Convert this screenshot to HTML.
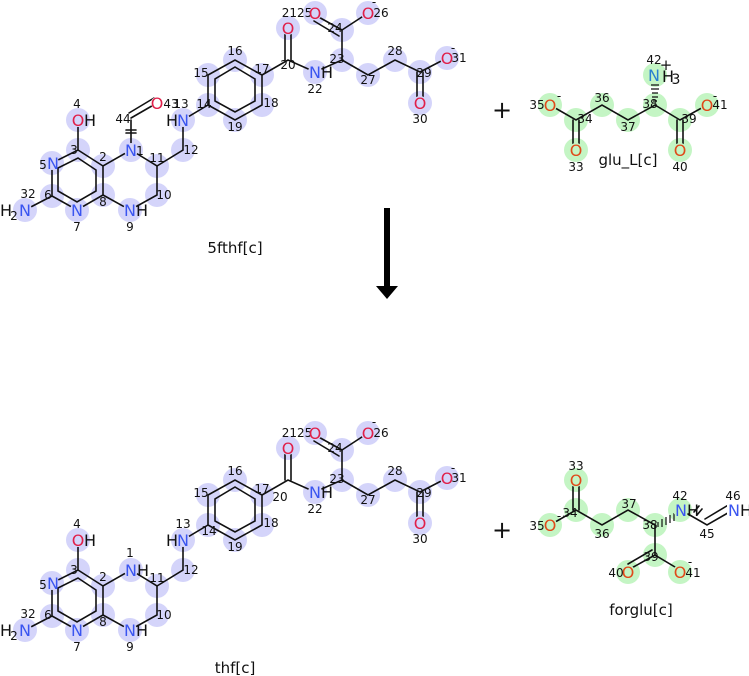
<!DOCTYPE html>
<html><head><meta charset="utf-8"><style>
html,body{margin:0;padding:0;background:#fff;}
svg{display:block;font-family:"DejaVu Sans","Liberation Sans",sans-serif;}
.b{stroke:#111;stroke-width:1.6;fill:none;stroke-linecap:round}
.hb circle{fill:#d4d4fa}
.hg circle{fill:#c4f5c4}
.n{font-size:12px;fill:#111;text-anchor:middle}
.N{font-size:16px;fill:#3a55f0;text-anchor:middle}
.O{font-size:16px;fill:#e0204a;text-anchor:middle}
.Og{font-size:16px;fill:#e04a1a;text-anchor:middle}
.H{font-size:16px;fill:#111}
.t{font-size:15px;fill:#111;text-anchor:middle}
</style></head><body>
<svg width="749" height="676" viewBox="0 0 749 676" xmlns="http://www.w3.org/2000/svg">

<!-- ===== 5fthf (top) ===== -->
<g class="hb">
<circle cx="131" cy="150" r="12"/><circle cx="103" cy="166" r="12"/><circle cx="78" cy="150" r="12"/>
<circle cx="78" cy="120" r="12"/><circle cx="52" cy="163" r="12"/><circle cx="52" cy="196" r="12"/>
<circle cx="77" cy="210" r="12"/><circle cx="103" cy="195" r="12"/><circle cx="130" cy="210" r="12"/>
<circle cx="157" cy="195" r="12"/><circle cx="157" cy="166" r="12"/><circle cx="183" cy="150" r="12"/>
<circle cx="183" cy="120" r="12"/><circle cx="208" cy="105" r="12"/><circle cx="208" cy="75" r="12"/>
<circle cx="235" cy="60" r="12"/><circle cx="262" cy="75" r="12"/><circle cx="262" cy="105" r="12"/>
<circle cx="235" cy="120" r="12"/><circle cx="288" cy="28" r="12"/><circle cx="315" cy="72" r="12"/>
<circle cx="342" cy="60" r="12"/><circle cx="342" cy="30" r="12"/><circle cx="315" cy="13" r="12"/>
<circle cx="368" cy="13" r="12"/><circle cx="368" cy="75" r="12"/><circle cx="395" cy="60" r="12"/>
<circle cx="420" cy="72" r="12"/><circle cx="420" cy="103" r="12"/><circle cx="447" cy="58" r="12"/>
<circle cx="25" cy="210" r="12"/>
</g>
<g class="b">
<path d="M131,150 L103,166 L78,150 L52,163 L52,196 L77,210 L103,195 L103,166"/>
<path d="M78,158 L96,170 L96,191 L77,202 L58,191 L58,168 Z"/>
<path d="M103,195 L130,210 L157,195 L157,166 L131,150"/>
<path d="M157,166 L183,150 L183,120 L208,105"/>
<path d="M208,105 L208,75 L235,60 L262,75 L262,105 L235,120 Z"/>
<path d="M215,101 L215,79 L235,67 L255,79 L255,101 L235,112 Z"/>
<path d="M262,75 L288,60 L315,72 L342,60 L342,30 L368,13"/>
<path d="M285,60 L285,28 M291,60 L291,28"/>
<path d="M342,30 L315,15 M339,36 L314,21"/>
<path d="M342,60 L368,75 L395,60 L420,72 L447,58"/>
<path d="M417,72 L417,103 M423,72 L423,103"/>
<path d="M78,150 L78,120 M52,196 L25,210"/>
<path d="M131,150 L131,120 M126,130 L136,130 M126,133 L136,133"/>
<path d="M131,118 L157,103 M129,113 L154,98"/>
</g>
<g class="hb">
<circle cx="131" cy="150" r="7"/><circle cx="78" cy="120" r="7"/><circle cx="52" cy="163" r="7"/>
<circle cx="77" cy="210" r="7"/><circle cx="130" cy="210" r="7"/><circle cx="183" cy="120" r="7"/>
<circle cx="288" cy="28" r="7"/><circle cx="315" cy="72" r="7"/><circle cx="315" cy="13" r="7"/>
<circle cx="368" cy="13" r="7"/><circle cx="420" cy="103" r="7"/><circle cx="447" cy="58" r="7"/>
<circle cx="25" cy="210" r="7"/>
</g>
<circle cx="157" cy="103" r="6" fill="#fff"/>
<text class="N" x="131" y="156">N</text><text class="n" x="140" y="155">1</text>
<text class="n" x="103" y="161">2</text><text class="n" x="74" y="154">3</text>
<text class="O" x="78" y="126">O</text><text class="H" x="84" y="126">H</text><text class="n" x="77" y="108">4</text>
<text class="N" x="53" y="169">N</text><text class="n" x="43" y="169">5</text>
<text class="n" x="48" y="199">6</text><text class="n" x="28" y="198">32</text>
<text class="N" x="25" y="216">N</text><text class="H" x="0" y="216">H</text><text class="n" x="14" y="220">2</text>
<text class="N" x="77" y="216">N</text><text class="n" x="77" y="231">7</text>
<text class="n" x="103" y="206">8</text>
<text class="N" x="130" y="216">N</text><text class="H" x="136" y="216">H</text><text class="n" x="130" y="231">9</text>
<text class="n" x="164" y="199">10</text><text class="n" x="157" y="162">11</text><text class="n" x="191" y="154">12</text>
<text class="H" x="166" y="126">H</text><text class="N" x="183" y="126">N</text><text class="n" x="181" y="108">13</text>
<text class="n" x="204" y="108">14</text><text class="n" x="201" y="77">15</text><text class="n" x="235" y="55">16</text>
<text class="n" x="262" y="73">17</text><text class="n" x="271" y="107">18</text><text class="n" x="235" y="131">19</text>
<text class="n" x="288" y="69">20</text>
<text class="O" x="288" y="34">O</text><text class="n" x="297" y="17">2125</text>
<text class="N" x="315" y="78">N</text><text class="H" x="321" y="78">H</text><text class="n" x="315" y="93">22</text>
<text class="n" x="337" y="63">23</text><text class="n" x="335" y="32">24</text>
<text class="O" x="315" y="19">O</text>
<text class="O" x="368" y="19">O</text><text class="n" x="381" y="17">26</text><text class="n" x="374" y="6">-</text>
<text class="n" x="368" y="84">27</text><text class="n" x="395" y="55">28</text><text class="n" x="424" y="77">29</text>
<text class="O" x="420" y="109">O</text><text class="n" x="420" y="123">30</text>
<text class="O" x="447" y="64">O</text><text class="n" x="459" y="62">31</text><text class="n" x="453" y="52">-</text>
<text class="n" x="123" y="123">44</text>
<text class="O" x="157" y="109">O</text><text class="n" x="171" y="108">43</text>
<text class="t" x="235" y="253">5fthf[c]</text>

<!-- plus + glu_L -->
<text x="502" y="118" style="font-size:24px;text-anchor:middle;fill:#111">+</text>
<g class="hg">
<circle cx="550" cy="105" r="12"/><circle cx="576" cy="120" r="12"/><circle cx="576" cy="150" r="12"/>
<circle cx="602" cy="105" r="12"/><circle cx="628" cy="120" r="12"/><circle cx="655" cy="105" r="12"/>
<circle cx="655" cy="75" r="12"/><circle cx="680" cy="120" r="12"/><circle cx="680" cy="150" r="12"/>
<circle cx="707" cy="105" r="12"/>
</g>
<g class="b">
<path d="M550,105 L576,120 L602,105 L628,120 L655,105 L680,120 L707,105"/>
<path d="M573,120 L573,150 M579,120 L579,150"/>
<path d="M677,120 L677,150 M683,120 L683,150"/>
</g>
<g stroke="#111" stroke-width="1.2">
<path d="M653,101 L657,101 M652,97 L658,97 M652,93 L658,93 M651,89 L659,89 M651,85 L659,85"/>
</g>
<g class="hg"><circle cx="550" cy="105" r="7"/><circle cx="576" cy="150" r="7"/><circle cx="680" cy="150" r="7"/><circle cx="707" cy="105" r="7"/><circle cx="655" cy="75" r="8"/></g>
<text class="Og" x="550" y="111">O</text><text class="n" x="537" y="109">35</text><text class="n" x="559" y="100">-</text>
<text class="n" x="585" y="123">34</text><text class="Og" x="576" y="156">O</text><text class="n" x="576" y="171">33</text>
<text class="n" x="602" y="102">36</text><text class="n" x="628" y="131">37</text><text class="n" x="650" y="108">38</text>
<text class="N" x="654" y="81" style="fill:#2a80d0">N</text><text class="H" x="662" y="82">H</text><text class="n" x="676" y="84" style="font-size:14px">3</text>
<text class="n" x="666" y="70" style="font-size:15px">+</text><text class="n" x="654" y="64">42</text>
<text class="n" x="689" y="123">39</text><text class="Og" x="680" y="156">O</text><text class="n" x="680" y="171">40</text>
<text class="Og" x="707" y="111">O</text><text class="n" x="720" y="109">41</text><text class="n" x="715" y="100">-</text>
<text class="t" x="628" y="165">glu_L[c]</text>

<!-- arrow -->
<rect x="384" y="208" width="6" height="80" fill="#000"/>
<path d="M376,286 L398,286 L387,299 Z" fill="#000"/>

<!-- ===== thf (bottom) ===== -->
<g transform="translate(0,420)">
<g class="hb">
<circle cx="131" cy="150" r="12"/><circle cx="103" cy="166" r="12"/><circle cx="78" cy="150" r="12"/>
<circle cx="78" cy="120" r="12"/><circle cx="52" cy="163" r="12"/><circle cx="52" cy="196" r="12"/>
<circle cx="77" cy="210" r="12"/><circle cx="103" cy="195" r="12"/><circle cx="130" cy="210" r="12"/>
<circle cx="157" cy="195" r="12"/><circle cx="157" cy="166" r="12"/><circle cx="183" cy="150" r="12"/>
<circle cx="183" cy="120" r="12"/><circle cx="208" cy="105" r="12"/><circle cx="208" cy="75" r="12"/>
<circle cx="235" cy="60" r="12"/><circle cx="262" cy="75" r="12"/><circle cx="262" cy="105" r="12"/>
<circle cx="235" cy="120" r="12"/><circle cx="288" cy="28" r="12"/><circle cx="315" cy="72" r="12"/>
<circle cx="342" cy="60" r="12"/><circle cx="342" cy="30" r="12"/><circle cx="315" cy="13" r="12"/>
<circle cx="368" cy="13" r="12"/><circle cx="368" cy="75" r="12"/><circle cx="395" cy="60" r="12"/>
<circle cx="420" cy="72" r="12"/><circle cx="420" cy="103" r="12"/><circle cx="447" cy="58" r="12"/>
<circle cx="25" cy="210" r="12"/>
</g>
<g class="b">
<path d="M131,150 L103,166 L78,150 L52,163 L52,196 L77,210 L103,195 L103,166"/>
<path d="M78,158 L96,170 L96,191 L77,202 L58,191 L58,168 Z"/>
<path d="M103,195 L130,210 L157,195 L157,166 L131,150"/>
<path d="M157,166 L183,150 L183,120 L208,105"/>
<path d="M208,105 L208,75 L235,60 L262,75 L262,105 L235,120 Z"/>
<path d="M215,101 L215,79 L235,67 L255,79 L255,101 L235,112 Z"/>
<path d="M262,75 L288,60 L315,72 L342,60 L342,30 L368,13"/>
<path d="M285,60 L285,28 M291,60 L291,28"/>
<path d="M342,30 L315,15 M339,36 L314,21"/>
<path d="M342,60 L368,75 L395,60 L420,72 L447,58"/>
<path d="M417,72 L417,103 M423,72 L423,103"/>
<path d="M78,150 L78,120 M52,196 L25,210"/>
</g>
<g class="hb">
<circle cx="131" cy="150" r="7"/><circle cx="78" cy="120" r="7"/><circle cx="52" cy="163" r="7"/>
<circle cx="77" cy="210" r="7"/><circle cx="130" cy="210" r="7"/><circle cx="183" cy="120" r="7"/>
<circle cx="288" cy="28" r="7"/><circle cx="315" cy="72" r="7"/><circle cx="315" cy="13" r="7"/>
<circle cx="368" cy="13" r="7"/><circle cx="420" cy="103" r="7"/><circle cx="447" cy="58" r="7"/>
<circle cx="25" cy="210" r="7"/>
</g>
<text class="N" x="131" y="156">N</text><text class="H" x="137" y="156">H</text><text class="n" x="130" y="137">1</text>
<text class="n" x="103" y="161">2</text><text class="n" x="74" y="154">3</text>
<text class="O" x="78" y="126">O</text><text class="H" x="84" y="126">H</text><text class="n" x="77" y="108">4</text>
<text class="N" x="53" y="169">N</text><text class="n" x="43" y="169">5</text>
<text class="n" x="48" y="199">6</text><text class="n" x="28" y="198">32</text>
<text class="N" x="25" y="216">N</text><text class="H" x="0" y="216">H</text><text class="n" x="14" y="220">2</text>
<text class="N" x="77" y="216">N</text><text class="n" x="77" y="231">7</text>
<text class="n" x="103" y="206">8</text>
<text class="N" x="130" y="216">N</text><text class="H" x="136" y="216">H</text><text class="n" x="130" y="231">9</text>
<text class="n" x="164" y="199">10</text><text class="n" x="157" y="162">11</text><text class="n" x="191" y="154">12</text>
<text class="H" x="166" y="126">H</text><text class="N" x="183" y="126">N</text><text class="n" x="183" y="108">13</text>
<text class="n" x="209" y="115">14</text><text class="n" x="201" y="77">15</text><text class="n" x="235" y="55">16</text>
<text class="n" x="262" y="73">17</text><text class="n" x="271" y="107">18</text><text class="n" x="235" y="131">19</text>
<text class="n" x="280" y="81">20</text>
<text class="O" x="288" y="34">O</text><text class="n" x="297" y="17">2125</text>
<text class="N" x="315" y="78">N</text><text class="H" x="321" y="78">H</text><text class="n" x="315" y="93">22</text>
<text class="n" x="337" y="63">23</text><text class="n" x="335" y="32">24</text>
<text class="O" x="315" y="19">O</text>
<text class="O" x="368" y="19">O</text><text class="n" x="381" y="17">26</text><text class="n" x="374" y="6">-</text>
<text class="n" x="368" y="84">27</text><text class="n" x="395" y="55">28</text><text class="n" x="424" y="77">29</text>
<text class="O" x="420" y="109">O</text><text class="n" x="420" y="123">30</text>
<text class="O" x="447" y="64">O</text><text class="n" x="459" y="62">31</text><text class="n" x="453" y="52">-</text>
<text class="t" x="235" y="253">thf[c]</text>
</g>

<!-- plus + forglu -->
<text x="502" y="538" style="font-size:24px;text-anchor:middle;fill:#111">+</text>
<g class="hg">
<circle cx="576" cy="480" r="12"/><circle cx="576" cy="510" r="12"/><circle cx="550" cy="525" r="12"/>
<circle cx="602" cy="525" r="12"/><circle cx="628" cy="510" r="12"/><circle cx="655" cy="525" r="12"/>
<circle cx="680" cy="510" r="12"/><circle cx="655" cy="555" r="12"/><circle cx="628" cy="572" r="12"/>
<circle cx="680" cy="572" r="12"/>
</g>
<g class="b">
<path d="M550,525 L576,510 L602,525 L628,510 L655,525 L655,555 L680,570"/>
<path d="M573,510 L573,480 M579,510 L579,480"/>
<path d="M655,555 L628,570 M652,550 L628,564"/>
<path d="M688,514 L707,525 L733,510 M705,519 L730,504"/>
<path d="M694,512 L699,506 M697,515 L702,509"/>
</g>
<g stroke="#111" stroke-width="1.2">
<path d="M658,522 L658,527 M662,519 L662,527 M666,517 L666,525 M670,515 L670,523 M674,513 L674,521"/>
</g>
<g class="hg"><circle cx="576" cy="480" r="7"/><circle cx="550" cy="525" r="7"/><circle cx="680" cy="510" r="7"/><circle cx="628" cy="572" r="7"/><circle cx="680" cy="572" r="7"/></g>
<rect x="727" y="500" width="22" height="18" fill="#fff"/>
<text class="Og" x="576" y="486">O</text><text class="n" x="576" y="470">33</text>
<text class="n" x="570" y="517">34</text>
<text class="Og" x="550" y="531">O</text><text class="n" x="537" y="530">35</text><text class="n" x="559" y="520">-</text>
<text class="n" x="602" y="538">36</text><text class="n" x="629" y="508">37</text><text class="n" x="650" y="529">38</text>
<text class="N" x="681" y="516">N</text><text class="H" x="687" y="516">H</text><text class="n" x="680" y="500">42</text>
<text class="n" x="707" y="538">45</text>
<text class="N" x="734" y="516">N</text><text class="H" x="740" y="516">H</text><text class="n" x="733" y="500">46</text>
<text class="n" x="651" y="561">39</text>
<text class="Og" x="628" y="578">O</text><text class="n" x="616" y="577">40</text>
<text class="Og" x="680" y="578">O</text><text class="n" x="693" y="577">41</text><text class="n" x="690" y="566">-</text>
<text class="t" x="641" y="615">forglu[c]</text>
</svg>
</body></html>
